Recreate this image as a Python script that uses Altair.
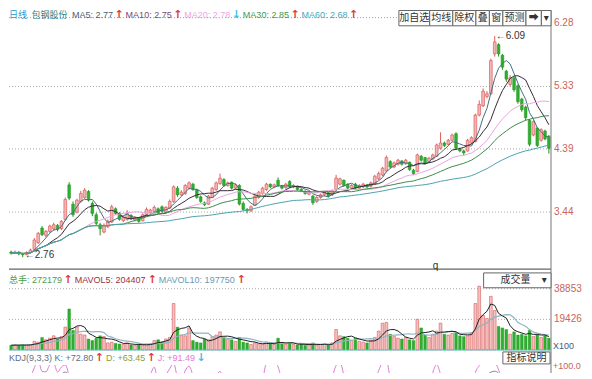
import altair as alt
import numpy as np
import pandas as pd

# ---------------- data ----------------
opens = [2.84, 2.82, 2.84, 2.81, 2.80, 2.83, 2.88, 2.98, 3.20, 3.09,
         3.15, 3.19, 3.24, 3.19, 3.33, 3.85, 3.56, 3.44, 3.60, 3.66,
         3.75, 3.57, 3.40, 3.25, 3.14, 3.22, 3.29, 3.49, 3.42, 3.31,
         3.33, 3.39, 3.32, 3.35, 3.31, 3.40, 3.43, 3.45, 3.49, 3.52,
         3.44, 3.50, 3.60, 3.80, 3.70, 3.72, 3.80, 3.86, 3.78, 3.67,
         3.58, 3.56, 3.66, 3.78, 3.87, 3.93, 3.84, 3.89, 3.80, 3.84,
         3.57, 3.48, 3.46, 3.54, 3.66, 3.72, 3.78, 3.86, 3.82, 3.92,
         3.84, 3.81, 3.90, 3.82, 3.83, 3.78, 3.75, 3.71, 3.68, 3.60,
         3.66, 3.70, 3.73, 3.70, 3.78, 3.86, 3.92, 3.86, 3.80, 3.86,
         3.80, 3.82, 3.85, 3.83, 3.86, 3.94, 4.00, 4.06, 4.20, 4.12,
         4.16, 4.21, 4.17, 4.19, 4.07, 4.05, 4.28, 4.26, 4.20, 4.24,
         4.28, 4.40, 4.48, 4.46, 4.52, 4.62, 4.39, 4.36, 4.36, 4.48,
         4.50, 4.90, 5.04, 5.18, 5.22, 5.82, 5.96, 5.80, 5.56, 5.36,
         5.46, 5.34, 5.14, 5.02, 4.82, 4.60, 4.70, 4.52, 4.66, 4.58]
closes = [2.82, 2.84, 2.81, 2.80, 2.83, 2.87, 3.02, 3.12, 3.10, 3.15,
          3.23, 3.25, 3.18, 3.30, 3.63, 3.65, 3.40, 3.62, 3.72, 3.77,
          3.62, 3.42, 3.27, 3.19, 3.24, 3.30, 3.52, 3.42, 3.33, 3.36,
          3.42, 3.34, 3.36, 3.30, 3.40, 3.48, 3.47, 3.51, 3.43, 3.45,
          3.51, 3.60, 3.82, 3.70, 3.74, 3.84, 3.88, 3.78, 3.66, 3.60,
          3.55, 3.68, 3.80, 3.88, 3.95, 3.84, 3.88, 3.80, 3.85, 3.56,
          3.48, 3.46, 3.52, 3.68, 3.74, 3.80, 3.86, 3.82, 3.85, 3.84,
          3.80, 3.86, 3.82, 3.84, 3.78, 3.76, 3.72, 3.74, 3.58, 3.66,
          3.70, 3.73, 3.68, 3.76, 3.95, 3.94, 3.84, 3.80, 3.84, 3.80,
          3.84, 3.86, 3.82, 3.88, 3.98, 4.02, 4.10, 4.26, 4.12, 4.18,
          4.22, 4.16, 4.22, 4.08, 4.02, 4.30, 4.22, 4.18, 4.25, 4.30,
          4.45, 4.48, 4.44, 4.52, 4.60, 4.40, 4.36, 4.33, 4.52, 4.56,
          4.90, 5.06, 5.26, 5.22, 5.72, 6.00, 5.82, 5.62, 5.44, 5.46,
          5.28, 5.10, 4.98, 4.86, 4.46, 4.80, 4.44, 4.68, 4.54, 4.40]
highs = [2.86, 2.86, 2.85, 2.83, 2.85, 2.89, 3.05, 3.14, 3.23, 3.17,
         3.25, 3.28, 3.26, 3.32, 3.66, 3.89, 3.60, 3.64, 3.76, 3.80,
         3.77, 3.60, 3.43, 3.28, 3.27, 3.33, 3.55, 3.51, 3.44, 3.38,
         3.47, 3.41, 3.38, 3.36, 3.42, 3.51, 3.49, 3.54, 3.51, 3.54,
         3.53, 3.63, 3.84, 3.83, 3.77, 3.86, 3.90, 3.88, 3.79, 3.69,
         3.60, 3.70, 3.82, 3.90, 4.02, 3.95, 3.90, 3.90, 3.87, 3.86,
         3.60, 3.50, 3.54, 3.70, 3.76, 3.82, 3.88, 3.87, 3.87, 3.96,
         3.85, 3.88, 3.92, 3.86, 3.84, 3.80, 3.77, 3.75, 3.70, 3.68,
         3.72, 3.75, 3.74, 3.78, 4.00, 3.96, 3.93, 3.87, 3.86, 3.88,
         3.86, 3.88, 3.86, 3.90, 4.00, 4.05, 4.12, 4.29, 4.22, 4.20,
         4.24, 4.22, 4.24, 4.20, 4.09, 4.32, 4.30, 4.27, 4.27, 4.32,
         4.47, 4.64, 4.50, 4.54, 4.62, 4.64, 4.41, 4.38, 4.54, 4.58,
         4.92, 5.12, 5.30, 5.26, 5.75, 6.09, 5.98, 5.82, 5.58, 5.50,
         5.48, 5.36, 5.16, 5.04, 4.84, 4.82, 4.72, 4.70, 4.68, 4.60]
lows = [2.80, 2.81, 2.79, 2.76, 2.79, 2.82, 2.87, 2.96, 3.08, 3.06,
        3.13, 3.16, 3.15, 3.17, 3.31, 3.62, 3.37, 3.42, 3.58, 3.64,
        3.60, 3.38, 3.24, 3.09, 3.12, 3.20, 3.28, 3.40, 3.31, 3.29,
        3.31, 3.32, 3.30, 3.28, 3.30, 3.38, 3.41, 3.44, 3.41, 3.43,
        3.42, 3.49, 3.58, 3.67, 3.68, 3.70, 3.78, 3.76, 3.64, 3.58,
        3.53, 3.55, 3.65, 3.76, 3.85, 3.82, 3.82, 3.78, 3.78, 3.54,
        3.46, 3.42, 3.44, 3.53, 3.64, 3.70, 3.76, 3.80, 3.80, 3.82,
        3.78, 3.79, 3.80, 3.80, 3.76, 3.74, 3.70, 3.69, 3.55, 3.58,
        3.64, 3.68, 3.66, 3.68, 3.76, 3.84, 3.82, 3.78, 3.78, 3.78,
        3.79, 3.80, 3.80, 3.81, 3.85, 3.92, 3.98, 4.04, 4.10, 4.10,
        4.14, 4.14, 4.15, 4.06, 4.00, 4.04, 4.20, 4.16, 4.18, 4.22,
        4.27, 4.38, 4.42, 4.44, 4.50, 4.38, 4.34, 4.30, 4.35, 4.46,
        4.49, 4.88, 5.02, 5.15, 5.20, 5.78, 5.78, 5.58, 5.40, 5.33,
        5.25, 5.07, 4.95, 4.82, 4.43, 4.58, 4.42, 4.50, 4.52, 4.32]
volumes = [3000, 3200, 3000, 3300, 3100, 3500, 5500, 5000, 8000, 6500,
           7500, 9000, 7000, 8500, 14500, 26000, 12500, 14500, 10000, 9500,
           7000, 6000, 7500, 9000, 8500, 4500, 5000, 4200, 3800, 3500,
           4500, 3200, 3000, 3400, 3000, 3800, 4000, 6000, 6500, 5000,
           7000, 8000, 29500, 14500, 9500, 9000, 14000, 6000, 5000, 4500,
           7000, 6500, 8500, 9500, 11500, 7500, 7000, 6500, 5500, 8000,
           5000, 4500, 3500, 4500, 4000, 3500, 5000, 4000, 3500, 7500,
           4000, 3500, 4500, 3500, 3200, 3800, 3000, 3500, 4500, 3000,
           3500, 3800, 3300, 4500, 13000, 9000, 8500, 7500, 6000, 7500,
           5500, 5000, 4500, 6000, 8000, 12000, 17000, 17500, 10000, 8500,
           7500, 7000, 8000, 6500, 6000, 19500, 14000, 9500, 8000, 10000,
           12000, 17000, 10000, 9500, 10500, 11000, 9000, 8500, 9000, 11000,
           29500, 40500, 22000, 20000, 34000, 25000, 15000, 14000, 13000, 10000,
           11500, 9500, 10000, 9000, 12500, 8500, 9500, 8000, 9000, 7500]

price_ticks = [3.44, 4.39, 5.33, 6.28]
vol_ticks = [19426, 38853]

header_items = [("日线", "#2a9ad0"), ("包钢股份", "#2a8080"),
                ("MA5: 2.77", "#4a6478"), ("↑", "#e0383c"),
                ("MA10: 2.75", "#7a4a78"), ("↑", "#e0383c"),
                ("MA20: 2.78", "#eea6e2"), ("↓", "#38c4e4"),
                ("MA30: 2.85", "#3c9a58"), ("↑", "#e0383c"),
                ("MA60: 2.68", "#4aa8b8"), ("↑", "#e0383c")]
vol_items = [("总手: 272179", "#4a9e4a"), ("↑", "#e0383c"),
             ("MAVOL5: 204407", "#a0303c"), ("↑", "#e0383c"),
             ("MAVOL10: 197750", "#6a9ab2"), ("↑", "#e0383c")]
kdj_items = [("KDJ(9,3,3) K: +72.80", "#5f6f82"), ("↑", "#e0383c"),
             ("D: +63.45", "#8c9c30"), ("↑", "#e0383c"),
             ("J: +91.49", "#e27ad8"), ("↓", "#38c4e4")]
buttons = ["加自选", "均线", "除权", "叠", "窗", "预测", "➡", "▾"]
button_edges = [405, 437, 461, 485, 499, 513, 537, 553, 563]

# ---------------- layout ----------------
W, H = 542, 363
SX, SY = W / 563.0, H / 379.0
FONT = "Liberation Sans, Noto Sans CJK SC, DejaVu Sans"
LBL = "#c8645a"
MA_COLORS = {5: "#44707e", 10: "#3a2a3a", 20: "#eaa5e0", 30: "#3c8c48", 60: "#4aa3b0"}
UP_FILL, UP_LINE = "#f3b6b6", "#dc5f5f"
DN_FILL, DN_LINE = "#2fae2f", "#1f951f"


def sx(v):
    return v * SX


def sy(v):
    return v * SY


n = len(closes)
df = pd.DataFrame(dict(i=list(range(n)), open=opens, close=closes,
                       high=highs, low=lows, vol=volumes))
df["dir"] = np.where(df["close"] >= df["open"], "up", "down")
for k in MA_COLORS:
    df[f"ma{k}"] = df["close"].rolling(k, min_periods=1).mean()
df["mv5"] = df["vol"].rolling(5, min_periods=1).mean()
df["mv10"] = df["vol"].rolling(10, min_periods=1).mean()

kk = dd = 50.0
ks, ds, js = [], [], []
for t in range(n):
    lo = min(lows[max(0, t - 8):t + 1])
    hi = max(highs[max(0, t - 8):t + 1])
    rsv = (closes[t] - lo) / (hi - lo) * 100 if hi > lo else 50.0
    kk = 2 / 3 * kk + rsv / 3
    dd = 2 / 3 * dd + kk / 3
    ks.append(kk)
    ds.append(dd)
    js.append(3 * kk - 2 * dd)
df["K"], df["D"], df["J"] = ks, ds, js

# scales (one plot area, three independent y scales)
ps = alt.Scale(domain=[3.44 - (379 - 211) / 69.4, 3.44 + 211 / 69.4], zero=False, nice=False)
vs = alt.Scale(domain=[-(379 - 355) * 38853 / 64, 355 * 38853 / 64], zero=False, nice=False)
kscale = alt.Scale(domain=[100 - 8 / 0.8, 100 + 371 / 0.8], zero=False, nice=False)
xs = alt.Scale(type="band", paddingInner=0.3, paddingOuter=0.2)
XB = alt.X("i:O", axis=None, scale=xs)
XC = alt.X("i:O", axis=None, scale=xs, bandPosition=0.5)


def Yp(f):
    return alt.Y(f, scale=ps, axis=None)


def Yv(f):
    return alt.Y(f, scale=vs, axis=None)


def Yk(f):
    return alt.Y(f, scale=kscale, axis=None)


one = pd.DataFrame({"a": [0]})


def txt(text, x, y, color, size=9, align="left", weight="normal", font=FONT):
    return alt.Chart(one).mark_text(text=text, align=align, baseline="middle",
                                    fontSize=size, color=color, font=font,
                                    fontWeight=weight).encode(x=alt.value(x), y=alt.value(y))


def box(x0, x1, y0, y1, stroke="#666666"):
    return alt.Chart(one).mark_rect(fill="white", stroke=stroke, strokeWidth=1).encode(
        x=alt.value(x0), x2=alt.value(x1), y=alt.value(y0), y2=alt.value(y1))


def hline(y, color, dash=None, width=1.0, x0=0, x1=W):
    kw = dict(color=color, strokeWidth=width)
    if dash:
        kw["strokeDash"] = dash
    return alt.Chart(one).mark_rule(**kw).encode(
        x=alt.value(x0), x2=alt.value(x1), y=alt.value(y))


AW = {".": .278, ":": .278, " ": .278, ",": .278, "(": .333, ")": .333, "+": .584,
      "M": .833, "A": .667, "V": .667, "O": .778, "L": .556, "K": .667, "D": .722, "J": .5}


def tw(s, size):
    w = 0.0
    for ch in s:
        if ord(ch) >= 0x2E80:
            w += size
        elif ch in "↑↓":
            w += 0.6 * size
        else:
            w += AW.get(ch, 0.556) * size
    return w


def row(items, y, size=9):
    out, x = [], 0.0
    for j, (s, c) in enumerate(items):
        arrow = s in ("↑", "↓")
        sz = size + 2 if arrow else size
        out.append(txt(s, x, y, c, size=sz, weight="bold" if arrow else "normal",
                       font="DejaVu Sans" if arrow else FONT))
        x += tw(s, sz)
        nxt = items[j + 1][0] if j + 1 < len(items) else ""
        x += 1.5 if nxt in ("↑", "↓") else 4.5
    return out


base = alt.Chart(df)
upd = base.transform_filter("datum.dir == 'up'")
dnd = base.transform_filter("datum.dir == 'down'")

# ---------------- KDJ (only its top edge is visible) ----------------
kdj = alt.layer(*[
    base.mark_line(color=c, strokeWidth=1, clip=True, interpolate="monotone").encode(
        x=XC, y=Yk(f"{f}:Q"))
    for f, c in (("K", "#7a8494"), ("D", "#a8b440"), ("J", "#e07ad8"))
])
cover = alt.Chart(one).mark_rect(color="white").encode(
    x=alt.value(0), x2=alt.value(W), y=alt.value(0), y2=alt.value(sy(370.6)))

# ---------------- price panel ----------------
hi_i, lo_i = int(np.argmax(highs)), int(np.argmin(lows))
ann = pd.DataFrame({"i": [hi_i], "p": [highs[hi_i]], "t": [f"←{highs[hi_i]:.2f}"]})
ann_lo = pd.DataFrame({"i": [lo_i], "p": [lows[lo_i]], "t": [f"←{lows[lo_i]:.2f}"]})

price_layers = [
    alt.Chart(pd.DataFrame({"p": price_ticks[:3]})).mark_rule(
        color="#aaaaaa", strokeDash=[1, 2]).encode(y=Yp("p:Q"), x=alt.value(0), x2=alt.value(W)),
    upd.mark_rule(color=UP_LINE, strokeWidth=1).encode(x=XC, y=Yp("low:Q"), y2="high:Q"),
    dnd.mark_rule(color=DN_LINE, strokeWidth=1).encode(x=XC, y=Yp("low:Q"), y2="high:Q"),
    upd.mark_bar(fill=UP_FILL, stroke=UP_LINE, strokeWidth=0.7).encode(x=XB, y=Yp("open:Q"), y2="close:Q"),
    dnd.mark_bar(fill=DN_FILL, stroke=DN_LINE, strokeWidth=0.5).encode(x=XB, y=Yp("open:Q"), y2="close:Q"),
]
for k, c in MA_COLORS.items():
    price_layers.append(base.mark_line(color=c, strokeWidth=1).encode(x=XC, y=Yp(f"ma{k}:Q")))
price_layers += [
    alt.Chart(pd.DataFrame({"p": price_ticks})).mark_text(
        align="left", baseline="middle", fontSize=10, color=LBL, font=FONT).encode(
        y=Yp("p:Q"), x=alt.value(W + 3), text=alt.Text("p:Q", format=".2f")),
    alt.Chart(ann).mark_text(align="left", baseline="middle", dx=1, fontSize=10,
                             color="#333333", font=FONT).encode(x=XC, y=Yp("p:Q"), text="t:N"),
    alt.Chart(ann_lo).mark_text(align="left", baseline="middle", dx=2, dy=-2, fontSize=10,
                                color="#333333", font=FONT).encode(x=XC, y=Yp("p:Q"), text="t:N"),
]
price = alt.layer(*price_layers)

# ---------------- volume panel ----------------
vol = alt.layer(
    alt.Chart(pd.DataFrame({"v": vol_ticks})).mark_rule(
        color="#aaaaaa", strokeDash=[1, 2]).encode(y=Yv("v:Q"), x=alt.value(0), x2=alt.value(W)),
    upd.mark_bar(fill="#f5c2c2", stroke="#d95a5a", strokeWidth=0.6).encode(
        x=XB, y=Yv("vol:Q"), y2=alt.datum(0)),
    dnd.mark_bar(fill="#2fae2f", stroke="#1f951f", strokeWidth=0.4).encode(
        x=XB, y=Yv("vol:Q"), y2=alt.datum(0)),
    base.mark_line(color="#8fb4c4", strokeWidth=1.2).encode(x=XC, y=Yv("mv10:Q")),
    base.mark_line(color="#222222", strokeWidth=1).encode(x=XC, y=Yv("mv5:Q")),
    alt.Chart(pd.DataFrame({"v": [0]})).mark_rule(color="#5fbfc4", strokeWidth=1.2).encode(
        y=Yv("v:Q"), x=alt.value(0), x2=alt.value(W)),
    alt.Chart(pd.DataFrame({"v": vol_ticks})).mark_text(
        align="left", baseline="middle", fontSize=10, color=LBL, font=FONT).encode(
        y=Yv("v:Q"), x=alt.value(W + 3), text=alt.Text("v:Q", format="d")),
)

# ---------------- decorations ----------------
deco = [
    hline(sy(8), "#9aa0a8", dash=[1, 2]),
    hline(sy(270.5), "#666666", width=1.3),
    alt.Chart(one).mark_rule(color="#777777").encode(
        x=alt.value(W), y=alt.value(0), y2=alt.value(H)),
]
deco += row(header_items, sy(4.8))
for j, lab in enumerate(buttons):
    x0, x1 = sx(button_edges[j]), sx(button_edges[j + 1])
    deco.append(box(x0, x1, 0.5, sy(16.5)))
    deco.append(txt(lab, (x0 + x1) / 2, sy(8.5), "#333333", size=10, align="center",
                    font="Noto Sans CJK SC, DejaVu Sans"))
deco += row(vol_items, sy(282))
deco += [box(sx(493), W, sy(274.5), sy(290)),
         txt("成交量", sx(526), sy(282.3), "#333333", size=10, align="center"),
         txt("▾", sx(556), sy(282.3), "#333333", size=10, align="center", font="DejaVu Sans"),
         txt("q", sx(443), sy(267), "#333333", size=10, align="center"),
         txt("X100", W + 2, sy(350.5), "#4a5a7a", size=9)]
deco += row(kdj_items, sy(363))
deco += [box(sx(513), sx(562), sy(357), sy(369.5)),
         txt("指标说明", sx(537.5), sy(363.3), "#333333", size=10, align="center"),
         txt("+100.0", W + 2, sy(371.5), LBL, size=9)]

chart = alt.layer(kdj, cover, price, vol, *deco).resolve_scale(y="independent").properties(
    width=W, height=H, padding=0).configure_view(stroke=None)

chart.save("out.html", embed_options={"renderer": "svg", "actions": False})
